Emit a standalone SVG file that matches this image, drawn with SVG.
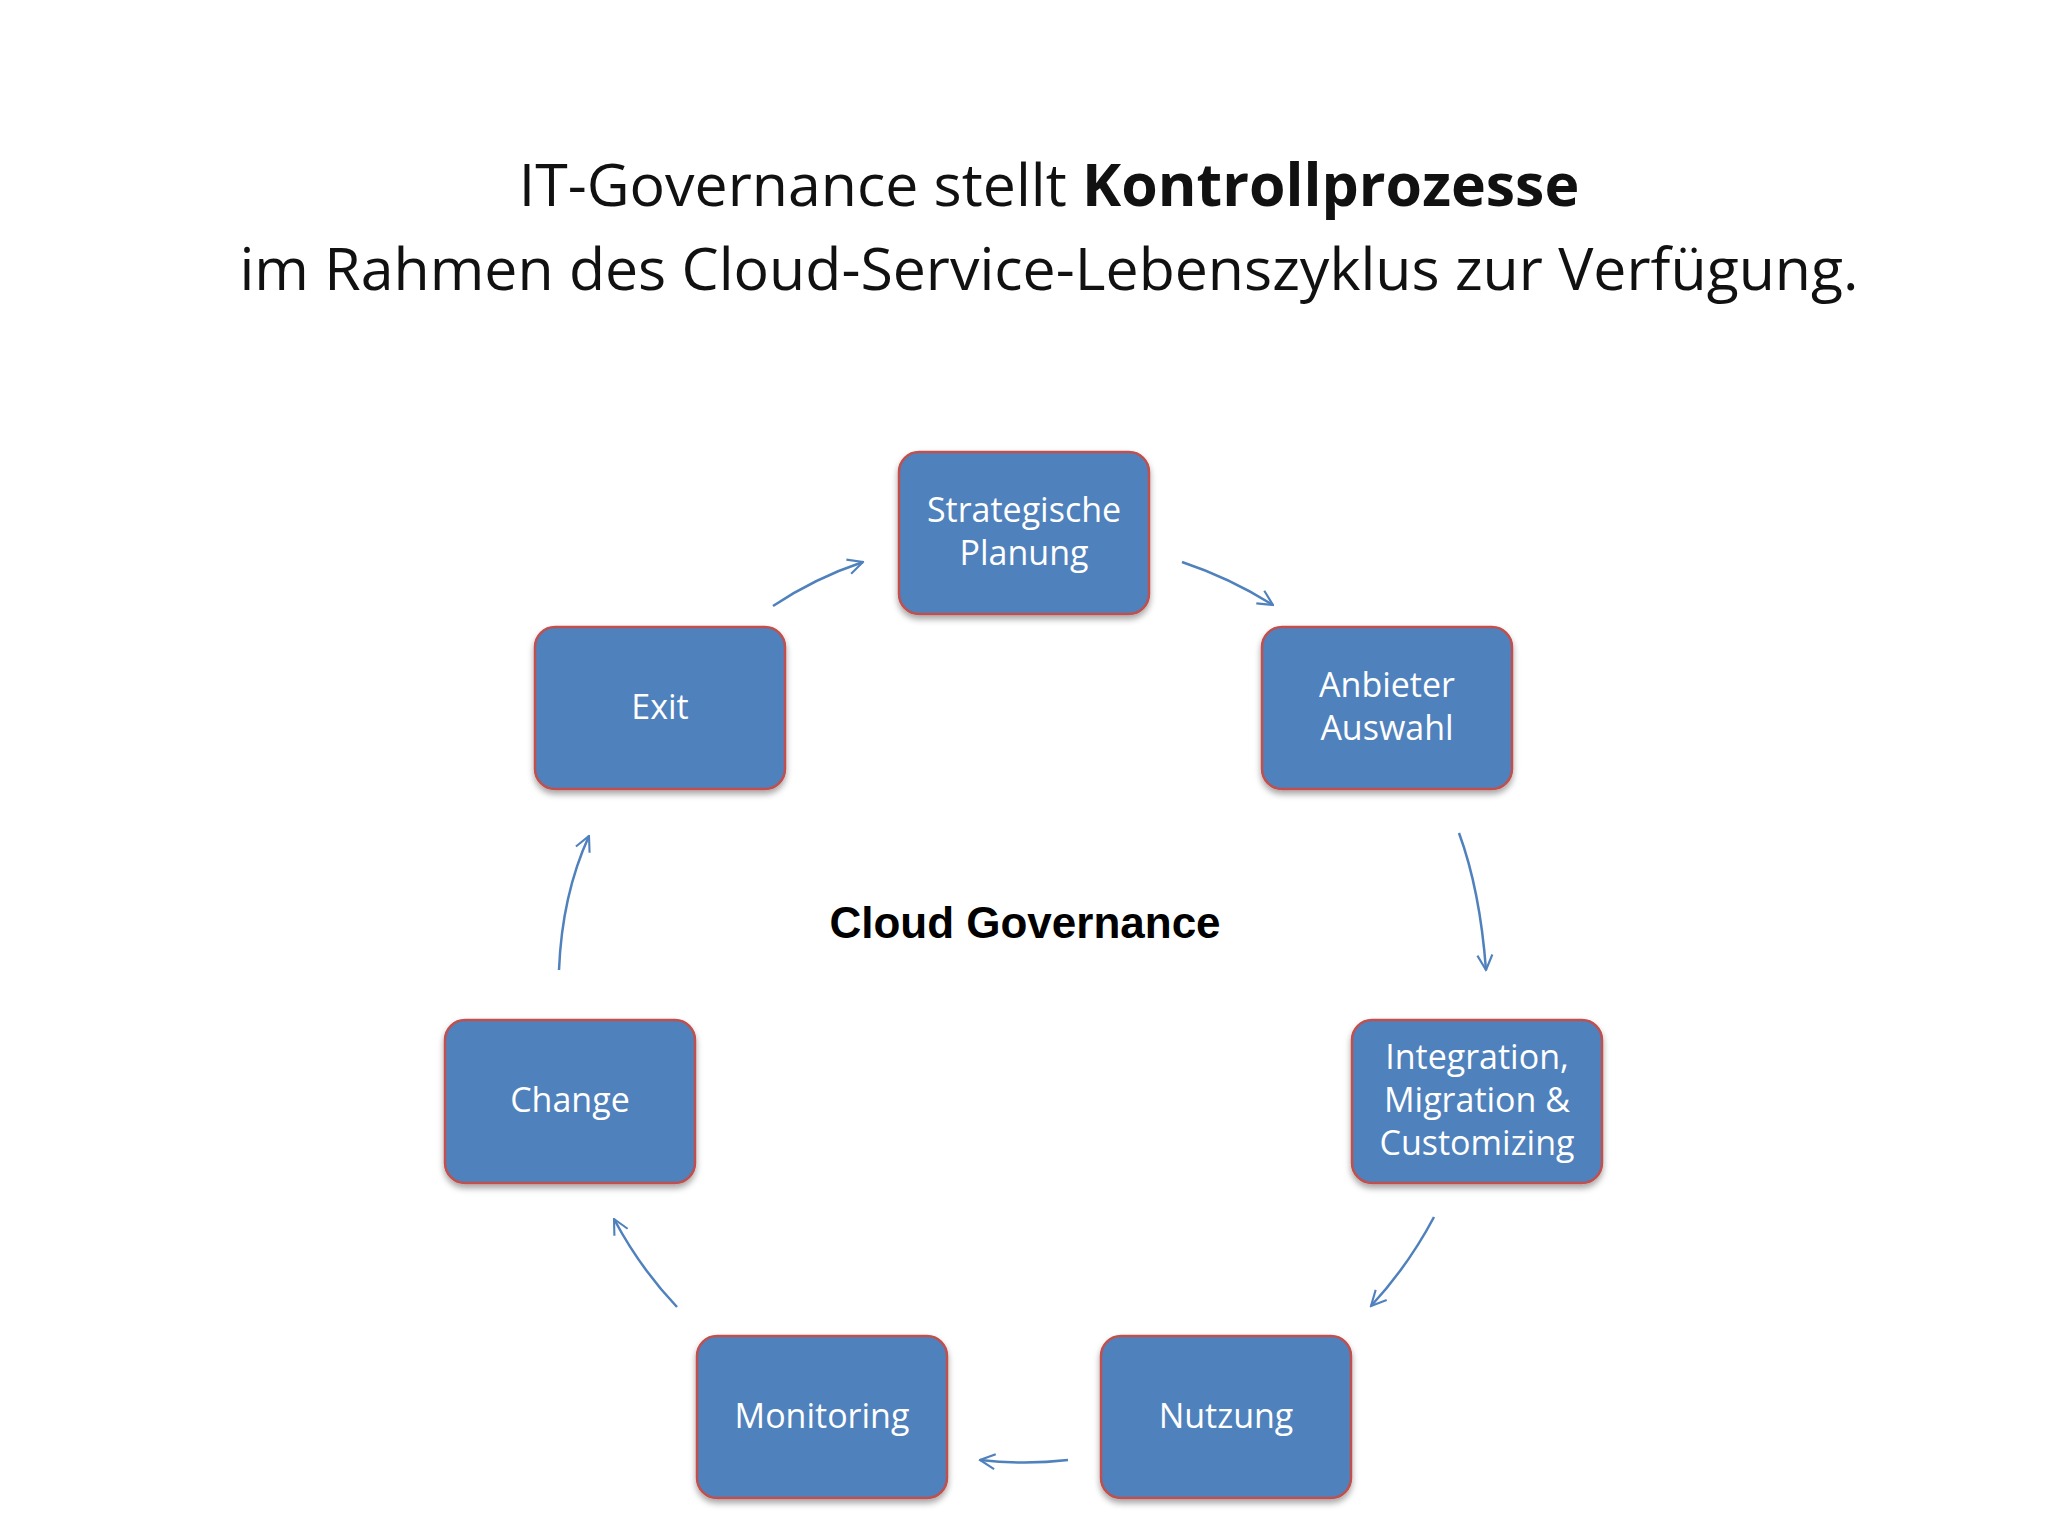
<svg xmlns="http://www.w3.org/2000/svg" width="2048" height="1536" viewBox="0 0 2048 1536">
<style>
.box{fill:#4F81BD;stroke:#C0504D;stroke-width:2.5}
.lbl{font-family:"Open Sans","Liberation Sans",sans-serif;font-size:34px;fill:#fff;text-anchor:middle}
.title{font-family:"Open Sans","Liberation Sans",sans-serif;font-size:59px;fill:#111;text-anchor:middle}
.arr{fill:none;stroke:#4F81BD;stroke-width:2.5;marker-end:url(#ah)}
</style>
<defs>
<marker id="ah" viewBox="0 0 12 12" refX="11" refY="6" markerWidth="18" markerHeight="18" markerUnits="userSpaceOnUse" orient="auto"><path d="M1,1 L11,6 L1,11" fill="none" stroke="#4F81BD" stroke-width="1.4"/></marker>
<filter id="sh" x="-10%" y="-10%" width="120%" height="130%"><feDropShadow dx="0" dy="4" stdDeviation="3" flood-opacity="0.35"/></filter>
</defs>
<rect width="2048" height="1536" fill="#fff"/>
<text class="title" x="1049" y="206">IT-Governance stellt <tspan font-weight="bold">Kontrollprozesse</tspan></text>
<text class="title" x="1049" y="290">im Rahmen des Cloud-Service-Lebenszyklus zur Verfügung.</text>
<text x="1025" y="938" font-family="Liberation Sans,Arial,sans-serif" font-size="44" font-weight="bold" text-anchor="middle" fill="#000">Cloud Governance</text>
<g id="strategische"><rect class="box" filter="url(#sh)" x="899" y="452" width="250" height="162" rx="20"/><text class="lbl" x="1024" y="522">Strategische</text><text class="lbl" x="1024" y="565">Planung</text></g>
<g id="anbieter"><rect class="box" filter="url(#sh)" x="1262" y="627" width="250" height="162" rx="20"/><text class="lbl" x="1387" y="697">Anbieter</text><text class="lbl" x="1387" y="740">Auswahl</text></g>
<g id="exit"><rect class="box" filter="url(#sh)" x="535" y="627" width="250" height="162" rx="20"/><text class="lbl" x="660" y="719">Exit</text></g>
<g id="integration"><rect class="box" filter="url(#sh)" x="1352" y="1020" width="250" height="163" rx="20"/><text class="lbl" x="1477" y="1069">Integration,</text><text class="lbl" x="1477" y="1112">Migration &amp;</text><text class="lbl" x="1477" y="1155">Customizing</text></g>
<g id="change"><rect class="box" filter="url(#sh)" x="445" y="1020" width="250" height="163" rx="20"/><text class="lbl" x="570" y="1112">Change</text></g>
<g id="monitoring"><rect class="box" filter="url(#sh)" x="697" y="1336" width="250" height="162" rx="20"/><text class="lbl" x="822" y="1428">Monitoring</text></g>
<g id="nutzung"><rect class="box" filter="url(#sh)" x="1101" y="1336" width="250" height="162" rx="20"/><text class="lbl" x="1226" y="1428">Nutzung</text></g>
<g id="connectors">
<path class="arr" d="M773,606 Q815,578 863,562"/>
<path class="arr" d="M1182,562 Q1230,578 1273,605"/>
<path class="arr" d="M1459,833 Q1480,890 1486,970"/>
<path class="arr" d="M1434,1217 Q1408,1266 1371,1306"/>
<path class="arr" d="M1068,1460 Q1025,1465 980,1460"/>
<path class="arr" d="M677,1307 Q640,1268 614,1219"/>
<path class="arr" d="M559,970 Q562,895 589,836"/>
</g>
</svg>
